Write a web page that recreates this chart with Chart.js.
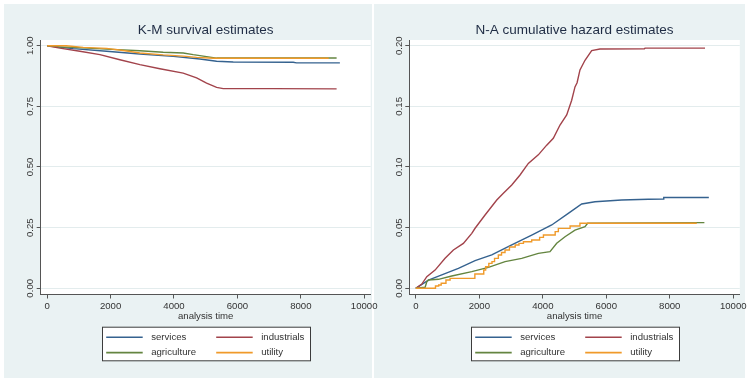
<!DOCTYPE html>
<html>
<head>
<meta charset="utf-8">
<script src="https://cdn.jsdelivr.net/npm/chart.js@4.4.1/dist/chart.umd.min.js"></script>
<style>
  html, body { margin: 0; padding: 0; background: #ffffff; width: 749px; height: 380px; overflow: hidden; }
  canvas { position: absolute; top: 4px; }
  #km { left: 4px; z-index: 2; }
  #na { left: 374px; z-index: 1; }
</style>
</head>
<body>
<canvas id="km" width="378" height="374"></canvas>
<canvas id="na" width="375" height="374"></canvas>
<script>
// Groups and their line colours
const groups = ['services', 'industrials', 'agriculture', 'utility'];
const groupColors = ['#35628f', '#a2434b', '#648540', '#f09a2a'];

// Axis ticks
const timeTicks = [0, 2000, 4000, 6000, 8000, 10000];
const survivalTicks = [0, 0.25, 0.50, 0.75, 1.00];
const hazardTicks = [0, 0.05, 0.10, 0.15, 0.20];

// Kaplan-Meier survival estimates: [analysis time, S(t)]
const kmServices = [[0,1],[820,0.988],[1874,0.977],[2924,0.966],[3975,0.956],[4817,0.945],[5344,0.936],[5868,0.933],[7760,0.932],[7867,0.929],[9233,0.929]];
const kmIndustrials = [[0,1],[400,0.990],[1032,0.977],[1662,0.963],[2293,0.942],[2924,0.922],[3555,0.905],[4290,0.887],[4713,0.867],[5028,0.846],[5344,0.828],[5553,0.823],[7129,0.823],[9130,0.822]];
const kmAgriculture = [[0,1],[300,0.999],[350,0.995],[820,0.993],[1874,0.986],[2924,0.979],[3660,0.973],[4290,0.970],[4606,0.963],[5028,0.955],[5344,0.949],[9130,0.949]];
const kmUtility = [[0,1],[600,1.0],[1136,0.993],[1874,0.989],[2398,0.980],[2924,0.970],[3660,0.962],[4290,0.957],[4713,0.952],[5237,0.948],[8880,0.948]];

// Nelson-Aalen cumulative hazard estimates: [analysis time, H(t)]
const naServices = [[0,0],[397,0.0068],[818,0.011],[1341,0.0165],[1867,0.0228],[2392,0.0275],[3022,0.0357],[3651,0.0439],[4281,0.0522],[4803,0.0618],[5225,0.0695],[5644,0.0714],[6484,0.0728],[7323,0.0734],[7795,0.0736],[7810,0.0748],[9230,0.0748]];
const naIndustrials = [[0,0],[189,0.0035],[346,0.0096],[607,0.015],[922,0.0247],[1184,0.0316],[1498,0.037],[1763,0.0453],[1867,0.0495],[2181,0.0604],[2550,0.0728],[2758,0.0783],[3022,0.0852],[3283,0.0934],[3544,0.103],[3859,0.110],[4123,0.118],[4331,0.1237],[4542,0.1346],[4753,0.1429],[4910,0.155],[5014,0.166],[5080,0.1695],[5171,0.180],[5329,0.188],[5540,0.196],[5801,0.1973],[7200,0.1975],[7220,0.198],[9110,0.198]];
const naAgriculture = [[0,0],[293,0.0008],[346,0.0054],[400,0.0068],[713,0.0074],[1132,0.0101],[1763,0.0137],[2287,0.0173],[2812,0.022],[3336,0.0247],[3860,0.0288],[4227,0.0302],[4438,0.0371],[4700,0.0425],[5014,0.048],[5329,0.0508],[5413,0.0536],[9090,0.0541]];
// utility hazard is drawn as a step function: [jump time, new level]
const naUtility = [[0,0],[620,0.0019],[720,0.0027],[800,0.0041],[950,0.0068],[1080,0.0082],[1860,0.0118],[2140,0.0151],[2200,0.0178],[2300,0.0205],[2400,0.022],[2480,0.0247],[2600,0.0275],[2700,0.0295],[2810,0.0316],[2950,0.034],[3130,0.0357],[3250,0.037],[3390,0.0384],[3650,0.0398],[3900,0.042],[4020,0.0439],[4390,0.0467],[4490,0.0494],[4860,0.0514],[5170,0.0536],[8850,0.0536]];

const FONT = "'Liberation Sans', Arial, Helvetica, sans-serif";
const TEXT = '#333333';
const AXIS = '#555555';

// Panel background with a white plot region
const panelBackground = {
  id: 'panelBackground',
  beforeDraw(chart, args, opts) {
    const { ctx, chartArea: a } = chart;
    ctx.save();
    ctx.fillStyle = opts.color;
    ctx.fillRect(0, 0, opts.width, chart.height);
    ctx.fillStyle = '#ffffff';
    ctx.fillRect(a.left, a.top, a.right - a.left, a.bottom - a.top);
    ctx.restore();
  }
};

// Boxed two-column legend under the x axis
const boxLegend = {
  id: 'boxLegend',
  afterDraw(chart, args, opts) {
    const { ctx, chartArea: a } = chart;
    const w = 208, h = 33.6;
    const left = Math.round((a.left + a.right) / 2 - w / 2) + 0.5;
    const top = opts.top + 0.5;
    ctx.save();
    ctx.fillStyle = '#ffffff';
    ctx.fillRect(left, top, w, h);
    ctx.strokeStyle = '#3c3c3c';
    ctx.lineWidth = 1;
    ctx.strokeRect(left, top, w, h);
    ctx.font = '9.6px ' + FONT;
    ctx.textBaseline = 'middle';
    ctx.textAlign = 'left';
    chart.data.datasets.forEach((ds, i) => {
      const col = i % 2, row = Math.floor(i / 2);
      const y = top + 10 + row * 15.4;
      const x0 = left + (col ? 113.7 : 3.7);
      ctx.strokeStyle = ds.borderColor;
      ctx.lineWidth = 1.6;
      ctx.beginPath();
      ctx.moveTo(x0, y);
      ctx.lineTo(x0 + 36.5, y);
      ctx.stroke();
      ctx.fillStyle = TEXT;
      ctx.fillText(ds.label, x0 + 45, y);
    });
    ctx.restore();
  }
};

function buildChart(id, title, series, yTicks, yRange, opt) {
  return new Chart(document.getElementById(id), {
    type: 'line',
    data: {
      datasets: series.map((s, i) => ({
        label: groups[i],
        data: s.points.map(([x, y]) => ({ x, y })),
        borderColor: groupColors[i],
        borderWidth: 1.4,
        pointRadius: 0,
        tension: 0,
        stepped: s.stepped || false,
        fill: false,
        order: 3 - i
      }))
    },
    options: {
      responsive: false,
      animation: false,
      devicePixelRatio: 1,
      layout: { padding: { left: 0, top: 0, right: opt.padRight, bottom: 53.5 } },
      plugins: {
        legend: { display: false },
        tooltip: { enabled: false },
        title: {
          display: true,
          fullSize: false,
          text: title,
          color: '#1f2c44',
          font: { family: FONT, size: 13.5, weight: 'normal', lineHeight: 1.2 },
          padding: { top: 18.6, bottom: 1.2 }
        },
        panelBackground: { color: '#eaf2f3', width: opt.bgWidth },
        boxLegend: { top: 322.7 }
      },
      scales: {
        x: {
          type: 'linear',
          min: -205,
          max: 10205,
          afterBuildTicks: s => { s.ticks = timeTicks.map(v => ({ value: v })); },
          afterFit: s => { s.height = 30; },
          grid: { drawOnChartArea: false, drawTicks: true, tickLength: 4, tickColor: AXIS, tickWidth: 1 },
          border: { display: true, color: AXIS, width: 1 },
          ticks: {
            color: TEXT, font: { family: FONT, size: 9.6 }, padding: 2.2,
            minRotation: 0, maxRotation: 0, autoSkip: false,
            callback: v => String(v)
          },
          title: {
            display: true, text: 'analysis time', color: TEXT,
            font: { family: FONT, size: 9.6, lineHeight: 1.2 },
            padding: { top: 0, bottom: 2 }
          }
        },
        y: {
          type: 'linear',
          min: yRange[0],
          max: yRange[1],
          afterBuildTicks: s => { s.ticks = yTicks.map(v => ({ value: v })); },
          afterFit: s => { s.width = opt.yWidth; },
          grid: { color: '#e3eced', lineWidth: 1, drawTicks: true, tickLength: 4, tickColor: AXIS, tickWidth: 1 },
          border: { display: true, color: AXIS, width: 1 },
          ticks: {
            color: TEXT, font: { family: FONT, size: 9.6 },
            minRotation: 90, maxRotation: 90, crossAlign: 'center', padding: -2.9,
            autoSkip: false,
            callback: v => Number(v).toFixed(2)
          }
        }
      }
    },
    plugins: [panelBackground, boxLegend]
  });
}

buildChart('km', 'K-M survival estimates',
  [{ points: kmServices }, { points: kmIndustrials }, { points: kmAgriculture }, { points: kmUtility }],
  survivalTicks, [-0.0256, 1.0235],
  { yWidth: 36.7, padRight: 11.3, bgWidth: 368 });

buildChart('na', 'N-A cumulative hazard estimates',
  [{ points: naServices }, { points: naIndustrials }, { points: naAgriculture }, { points: naUtility, stepped: true }],
  hazardTicks, [-0.00512, 0.2047],
  { yWidth: 35.3, padRight: 9, bgWidth: 371 });
</script>
</body>
</html>
